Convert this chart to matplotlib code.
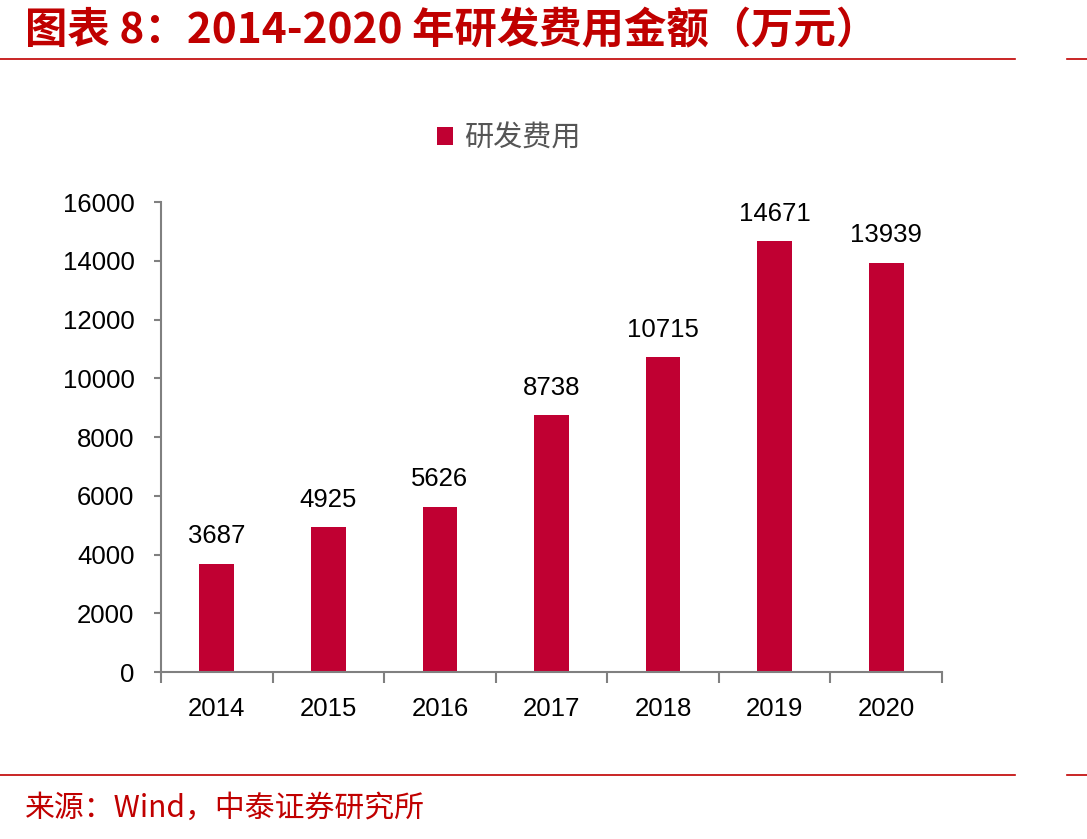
import matplotlib
matplotlib.use("Agg")
import matplotlib.pyplot as plt
from matplotlib.lines import Line2D

plt.rcParams['font.family'] = ['Liberation Sans', 'Noto Sans CJK SC', 'DejaVu Sans']

years = ["2014", "2015", "2016", "2017", "2018", "2019", "2020"]
rd_expense = [3687, 4925, 5626, 8738, 10715, 14671, 13939]
series_name = "研发费用"
title_text = "图表 8：2014-2020 年研发费用金额（万元）"
source_text = "来源：Wind，中泰证券研究所"
yticks = [0, 2000, 4000, 6000, 8000, 10000, 12000, 14000, 16000]

bar_color = "#C00032"
red = "#C00000"
axis_grey = "#808080"

fig = plt.figure(figsize=(10.87, 8.39), dpi=100)
ax = fig.add_axes([0.1481, 0.199, 0.7185, 0.5602])

x = list(range(len(years)))
bars = ax.bar(x, rd_expense, width=0.31, color=bar_color, label=series_name, zorder=2)
for xi, v in zip(x, rd_expense):
    ax.annotate(str(v), (xi, v), xytext=(0, 11), textcoords="offset points",
                ha="center", va="bottom", fontsize=18.5, color="#000000")

ax.set_xlim(-0.5, len(years) - 0.5)
ax.set_ylim(0, 16000)
ax.set_yticks(yticks)
ax.set_yticklabels([str(t) for t in yticks], fontsize=18.5)
ax.set_xticks(x)
ax.set_xticklabels(years, fontsize=18.5)
ax.tick_params(axis='x', length=0, pad=18)
ax.tick_params(axis='y', length=5, width=1.5, color=axis_grey, pad=14, direction='out')
# category boundary ticks on x axis
ax.set_xticks([i - 0.5 for i in range(len(years) + 1)], minor=True)
ax.tick_params(axis='x', which='minor', length=8, width=1.5, color=axis_grey, direction='out')

for s in ['top', 'right']:
    ax.spines[s].set_visible(False)
for s in ['left', 'bottom']:
    ax.spines[s].set_color(axis_grey)
    ax.spines[s].set_linewidth(1.5)

leg = fig.legend(handles=[bars], labels=[series_name], loc='center',
                 bbox_to_anchor=(0.468, 0.835), frameon=False,
                 prop={'family': 'Noto Sans CJK SC', 'size': 21},
                 handlelength=0.55, handleheight=0.55, handletextpad=0.35)
for t in leg.get_texts():
    t.set_color("#555555")

# title
fig.text(0.023, 0.963, title_text, fontsize=30.5, fontweight='bold', color=red,
         family=['Noto Sans CJK SC', 'DejaVu Sans'], ha='left', va='center')
# header / footer lines
for ypix in (59, 775):
    yy = 1 - ypix / 839
    fig.add_artist(Line2D([0, 1015 / 1087], [yy, yy], color=red, lw=1.2, transform=fig.transFigure))
    fig.add_artist(Line2D([1067 / 1087, 1], [yy, yy], color=red, lw=1.2, transform=fig.transFigure))

fig.text(0.023, 1 - 808 / 839, source_text, fontsize=21.5, color=red,
         family=['Noto Sans CJK SC', 'DejaVu Sans'], ha='left', va='center')

fig.savefig("out.png", dpi=100)
